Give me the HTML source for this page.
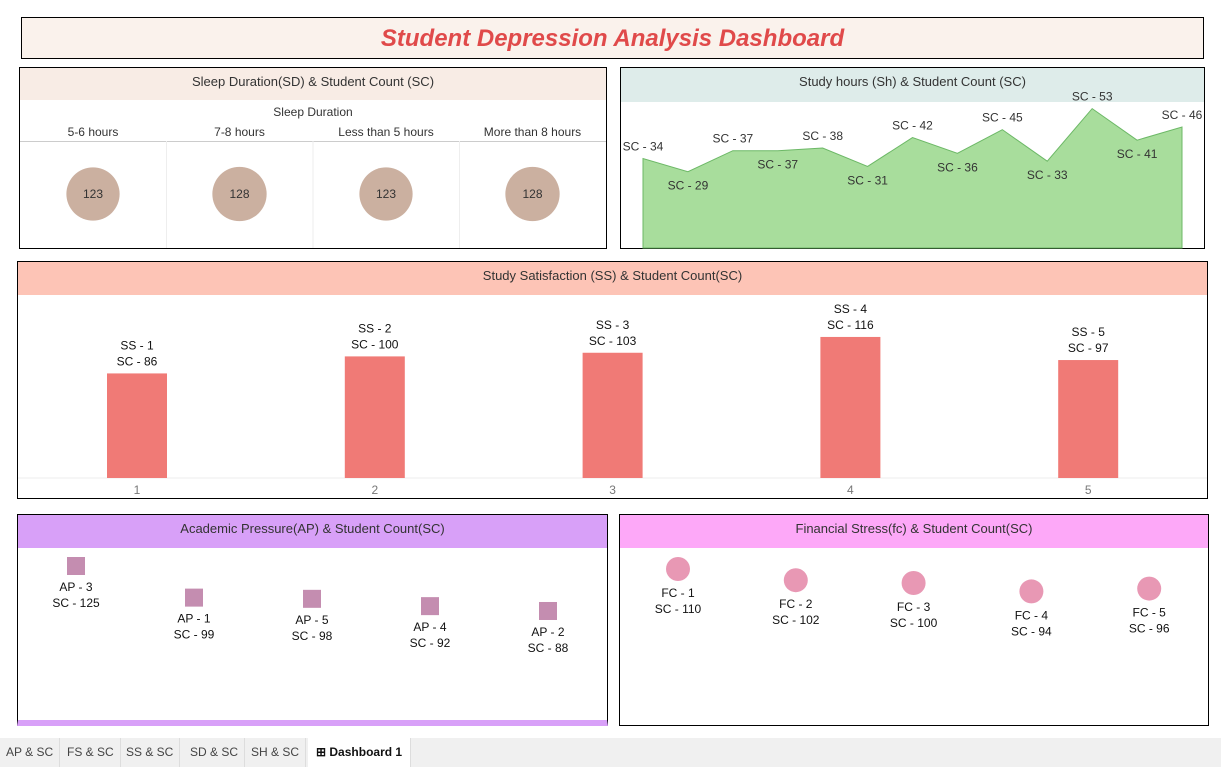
<!DOCTYPE html>
<html><head><meta charset="utf-8"><style>
body{margin:0;width:1221px;height:767px;background:#fff;font-family:"Liberation Sans",sans-serif;position:relative;overflow:hidden}
.box{position:absolute;border:1px solid #000;box-sizing:border-box;background:#fff}
.hdr{position:absolute;left:0;right:0;top:0;text-align:center;font-size:13px;color:#333}
svg{position:absolute;left:0;top:0}
.tab{position:absolute;top:738px;height:29px;line-height:29px;font-size:12px;color:#444;padding:0 6px;border-right:1px solid #ddd}
</style></head><body>
<div class="box" style="left:21px;top:17px;width:1183px;height:42px;background:#faf2ec">
<div style="text-align:center;font-size:24px;font-weight:bold;font-style:italic;color:#e04a4a;line-height:42px">Student Depression Analysis Dashboard</div></div>

<div class="box" style="left:19px;top:67px;width:588px;height:182px">
<div class="hdr" style="height:32px;line-height:28px;background:#f8ece5">Sleep Duration(SD) &amp; Student Count (SC)</div>
<div style="position:absolute;top:37px;width:100%;text-align:center;font-size:12px;color:#333">Sleep Duration</div>
<div style="position:absolute;top:73px;left:0;right:0;border-top:1px solid #ccc"></div>
</div>
<div class="box" style="left:620px;top:67px;width:585px;height:182px">
<div class="hdr" style="height:34px;line-height:28px;background:#deecea">Study hours (Sh) &amp; Student Count (SC)</div></div>
<div class="box" style="left:17px;top:261px;width:1191px;height:238px">
<div class="hdr" style="height:33px;line-height:28px;background:#fdc4b6">Study Satisfaction (SS) &amp; Student Count(SC)</div></div>
<div class="box" style="left:17px;top:514px;width:591px;height:212px;border-bottom:6px solid #d8a0f8">
<div class="hdr" style="height:33px;line-height:28px;background:#d8a0f8">Academic Pressure(AP) &amp; Student Count(SC)</div></div>
<div class="box" style="left:619px;top:514px;width:590px;height:212px">
<div class="hdr" style="height:33px;line-height:28px;background:#fda8f8">Financial Stress(fc) &amp; Student Count(SC)</div></div>

<svg id="chart" width="1221" height="767"></svg>

<div style="position:absolute;left:0;top:738px;width:1221px;height:29px;background:#f0f0f0"></div>
<div class="tab" style="left:0">AP &amp; SC</div>
<div class="tab" style="left:61px">FS &amp; SC</div>
<div class="tab" style="left:120px">SS &amp; SC</div>
<div class="tab" style="left:184px">SD &amp; SC</div>
<div class="tab" style="left:245px">SH &amp; SC</div>
<div class="tab" style="left:308px;background:#fff;color:#111;font-weight:bold;padding:0 8px">⊞ Dashboard 1</div>

<script>
const sleepCats=["5-6 hours","7-8 hours","Less than 5 hours","More than 8 hours"];
const sleepVals=[123,128,123,128];
const hoursVals=[34,29,37,37,38,31,42,36,45,33,53,41,46];
const ssCats=["1","2","3","4","5"];
const ssVals=[86,100,103,116,97];
const apCats=["3","1","5","4","2"];
const apVals=[125,99,98,92,88];
const fcCats=["1","2","3","4","5"];
const fcVals=[110,102,100,94,96];

const svg=document.getElementById('chart');
const NS='http://www.w3.org/2000/svg';
function mk(t,a,txt){const e=document.createElementNS(NS,t);for(const k in a)e.setAttribute(k,a[k]);if(txt!==undefined)e.textContent=txt;svg.appendChild(e);return e;}
function txt(x,y,s,size,fill,name){const e=mk('text',{x:x,y:y,'text-anchor':'middle','font-size':size||12,fill:fill||'#222','font-family':'Liberation Sans, sans-serif'},s);

return e;}

// sleep
sleepCats.forEach((c,i)=>{const cx=93+i*146.5;
txt(cx,136,c,12,'#333','sleep-category-label');
if(i>0){const l=mk('line',{x1:20+i*146.5,x2:20+i*146.5,y1:141,y2:248,stroke:'#eee'});

}
const r=Math.sqrt(sleepVals[i])*2.4;
const c2=mk('circle',{cx:cx,cy:194,r:r,fill:'#cbb0a0'});


txt(cx,198,sleepVals[i],12,'#333','sleep-value');});

// study hours area
const hx=i=>643+i*(1182-643)/(hoursVals.length-1);
const hy=v=>248-v*2.63;
let d='M'+hx(0)+',248 ';hoursVals.forEach((v,i)=>d+='L'+hx(i)+','+hy(v)+' ');d+='L'+hx(hoursVals.length-1)+',248Z';
const area=mk('path',{d:d,fill:'#a8dd9c',stroke:'#6cb866','stroke-width':1});


hoursVals.forEach((v,i)=>{const up=i%2===0;txt(hx(i),up?hy(v)-8:hy(v)+18,'SC - '+v,12,'#333','study-hours-label');});

// satisfaction bars
const bx=i=>137+i*237.8;const by=v=>478-v*1.216;
mk('line',{x1:18,x2:1207,y1:478,y2:478,stroke:'#eee'});
ssCats.forEach((c,i)=>{const v=ssVals[i];
const r=mk('rect',{x:bx(i)-30,y:by(v),width:60,height:478-by(v),fill:'#f07a76'});


txt(bx(i),by(v)-24,'SS - '+c,12,'#111','bar-label-ss');
txt(bx(i),by(v)-8,'SC - '+v,12,'#111','bar-label-sc');
txt(bx(i),494,c,12,'#777','x-axis-tick');});

// academic pressure
const ay=v=>566+(125-v)*1.216;
apCats.forEach((c,i)=>{const x=76+i*118,y=ay(apVals[i]);
const r=mk('rect',{x:x-9,y:y-9,width:18,height:18,fill:'#c48db0'});


txt(x,y+25,'AP - '+c,12,'#111','ap-label');txt(x,y+41,'SC - '+apVals[i],12,'#111','ap-count-label');});

// financial stress
const fy=v=>569+(110-v)*1.4;
fcCats.forEach((c,i)=>{const x=678+i*117.8,y=fy(fcVals[i]);
const ci=mk('circle',{cx:x,cy:y,r:12,fill:'#e898b4'});


txt(x,y+28,'FC - '+c,12,'#111','fc-label');txt(x,y+44,'SC - '+fcVals[i],12,'#111','fc-count-label');});
</script>
</body></html>
